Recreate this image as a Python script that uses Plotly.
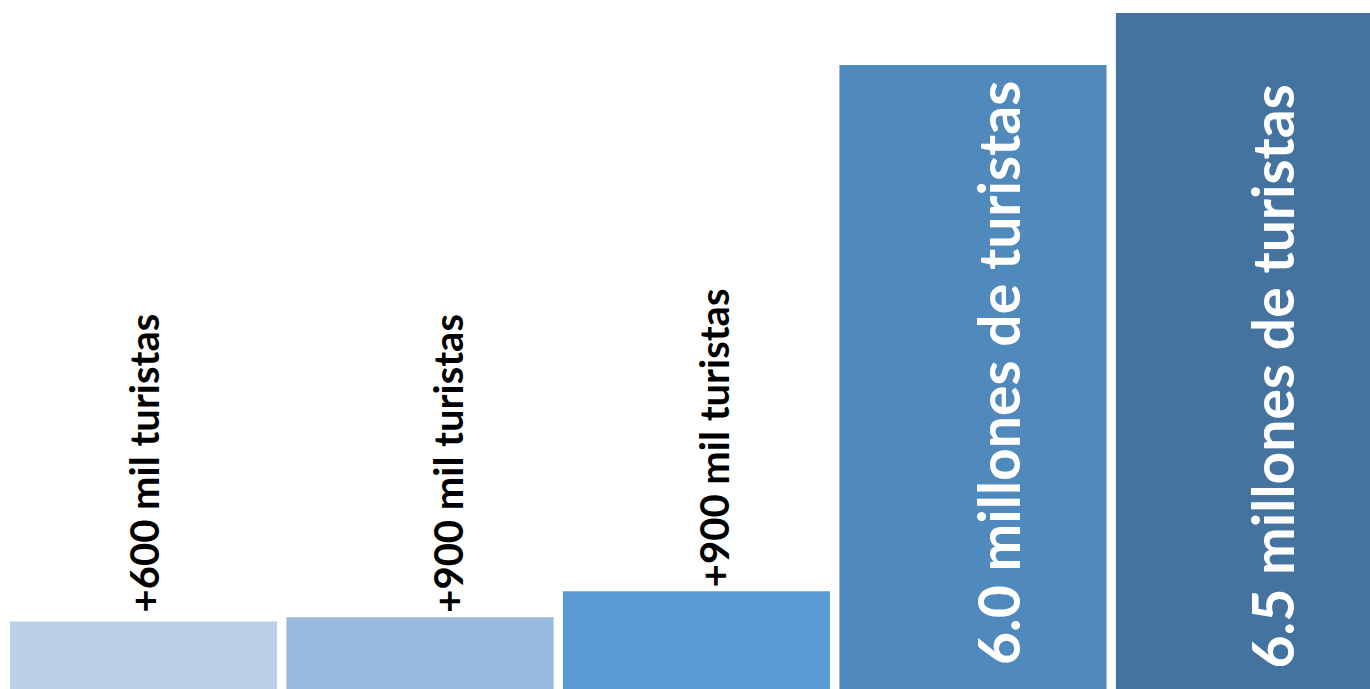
import plotly.graph_objects as go

categories = ["A", "B", "C", "D", "E"]
values = [0.65, 0.69, 0.94, 6.0, 6.5]
labels = ["+600 mil turistas", "+900 mil turistas", "+900 mil turistas",
          "6.0 millones de turistas", "6.5 millones de turistas"]

colors = ["#BCD1E9", "#98B8DE", "#5B9BD5", "#5089BC", "#44739F"]
inside = [False, False, False, True, True]
label_dx = [0, 28, 17, 25, 23]
label_dy = [9, 5, 4, 24, 21]

fig = go.Figure(go.Bar(x=categories, y=values, marker=dict(color=colors, line=dict(width=0)),
                       hoverinfo="skip"))

for c, v, t, ins, dx, dy in zip(categories, values, labels, inside, label_dx, label_dy):
    if ins:
        fig.add_annotation(x=c, y=0, text=t, textangle=-90, showarrow=False,
                           xanchor="center", yanchor="bottom", yshift=dy, xshift=dx,
                           font=dict(family="Lato", size=57, color="white", weight="bold"),
                           borderpad=0, borderwidth=0)
    else:
        fig.add_annotation(x=c, y=v, text=t, textangle=-90, showarrow=False,
                           xanchor="center", yanchor="bottom", yshift=dy, xshift=dx,
                           font=dict(family="Lato", size=40, color="black", weight="bold"),
                           borderpad=0, borderwidth=0)

fig.update_layout(
    width=1370, height=689,
    margin=dict(l=0, r=0, t=0, b=0),
    paper_bgcolor="white", plot_bgcolor="white",
    bargap=0.034, showlegend=False,
    xaxis=dict(visible=False, type="category", range=[-0.519, 4.436]),
    yaxis=dict(visible=False, range=[0, 6.625]),
)

fig.write_html("out.html", config={"displayModeBar": False},
               post_script="document.body.style.margin='0';document.body.style.overflow='hidden';")
